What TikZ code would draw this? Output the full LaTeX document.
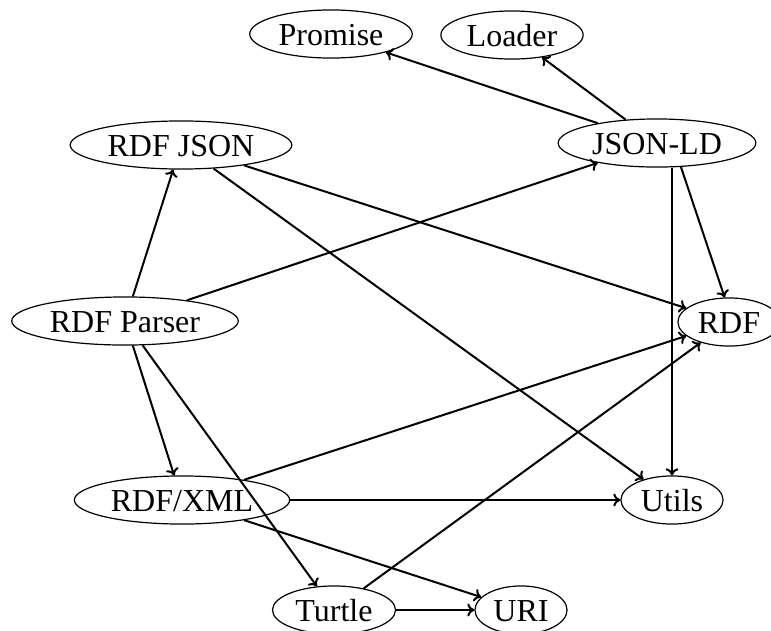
\documentclass[tikz,border=0pt]{standalone}
\usepackage{fontspec}
\setmainfont{Liberation Serif}
\usetikzlibrary{shapes.geometric}
\usetikzlibrary{arrows.meta}

\begin{document}
\begin{tikzpicture}[x=1pt, y=-1pt,
  pkg/.style={draw, ellipse, line width=1.2pt, font=\fontsize{32}{38}\selectfont,
    inner xsep=5pt, inner ysep=6pt, text height=22pt, text depth=0pt},
  dep/.style={line width=2pt, ->, >={To[length=7pt,width=13pt]}}]
\useasboundingbox (0,0) rectangle (771,630);
% packages
\node[pkg] (promise) at (331,34)  {Promise};
\node[pkg] (loader)  at (512,35)  {Loader};
\node[pkg] (jsonld)  at (657,143) {JSON-LD};
\node[pkg] (rdfjson) at (181,145) {RDF JSON};
\node[pkg] (parser)  at (125,321) {RDF Parser};
\node[pkg] (rdf)     at (729,322) {RDF};
\node[pkg] (rdfxml)  at (182,500) {RDF/XML};
\node[pkg] (utils)   at (672,500) {Utils};
\node[pkg] (turtle)  at (334,610) {Turtle};
\node[pkg] (uri)     at (521,610) {URI};
% dependencies
\draw[dep] (jsonld) -- (promise);
\draw[dep] (jsonld) -- (loader);
\draw[dep] (jsonld.-45) -- (rdf.100);
\draw[dep] (jsonld.south -| utils) -- (utils);
\draw[dep] (rdfjson) -- (rdf);
\draw[dep] (rdfjson) -- (utils);
\foreach \t in {rdfjson, jsonld, rdfxml, turtle}
  \draw[dep] (parser) -- (\t);
\foreach \t in {rdf, utils, uri}
  \draw[dep] (rdfxml) -- (\t);
\draw[dep] (turtle) -- (rdf);
\draw[dep] (turtle) -- (uri);
\end{tikzpicture}
\end{document}
